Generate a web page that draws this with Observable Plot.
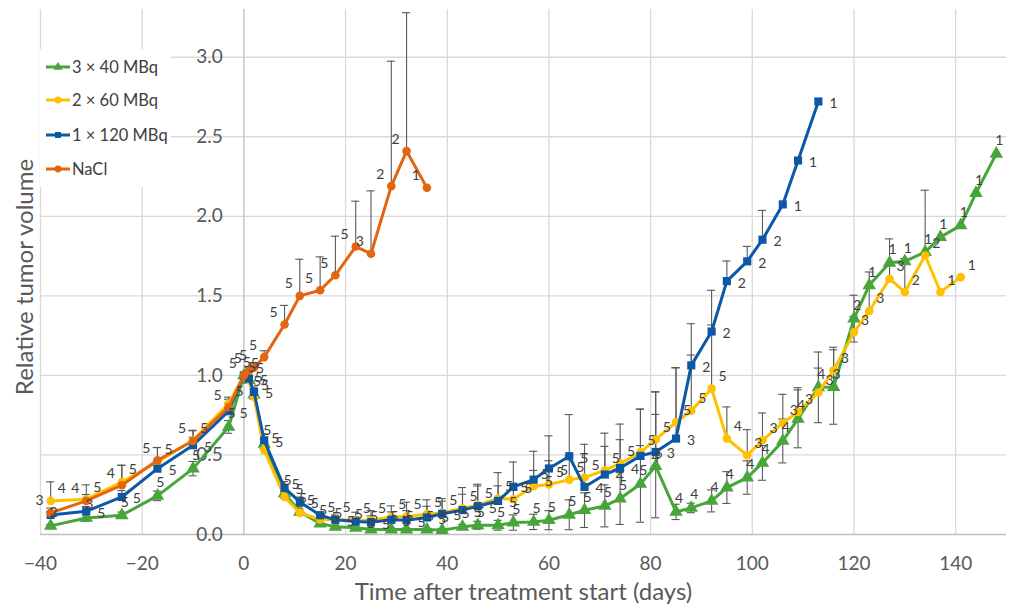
<!DOCTYPE html>
<html><head><meta charset="utf-8">
<script src="https://cdn.jsdelivr.net/npm/d3@7"></script>
<script src="https://cdn.jsdelivr.net/npm/@observablehq/plot@0.6"></script>
<style>
body{margin:0;background:#fff;font-family:Lato,"Open Sans",sans-serif;}
#wrap{position:relative;width:1011px;height:610px;}
#legend{position:absolute;left:40px;top:49px;width:131px;height:138px;background:#fff;}
#legend text{font-family:Lato,"Open Sans",sans-serif;}
</style></head><body><div id="wrap"><div id="legend"></div></div>
<script>
// Shared timeline (days after treatment start)
const days = [-38,-31,-24,-17,-10,-3,0,1,2,4,8,11,15,18,22,25,29,32,36,39,43,46,50,53,57,60,64,67,71,74,78,81,85,88,92,95,99,102,106,109,113,116,120,123,127,130,134,137,141,144,148];

const seriesNames = ["3 × 40 MBq","2 × 60 MBq","1 × 120 MBq","NaCl"];
const seriesColors = ["#47a53a","#ffc000","#0c58a6","#e4650f"];

// 3 × 40 MBq (green)
const g40 = [0.054,0.104,0.121,0.243,0.414,0.676,
  1.0,0.97,0.88,0.57,0.258,0.142,0.069,0.048,0.042,0.031,0.031,0.031,0.031,0.027,0.048,0.058,0.058,0.075,0.079,0.09,0.124,0.153,0.18,0.226,0.318,0.43,0.142,0.167,0.211,0.295,0.358,0.45,0.588,0.727,0.925,0.927,1.357,1.566,1.708,1.717,1.775,1.869,1.943,2.146,2.393];
const g40n = [2,3,5,5,5,5,
  5,5,5,5,5,5,5,5,5,5,5,5,5,5,5,5,5,5,5,5,5,5,5,5,5,5,4,4,4,4,4,4,4,4,4,3,2,1,1,1,1,1,1,1,1];
const g40err = [0.01,0.02,0.02,0.03,0.045,0.04,
  0,0.02,0.03,0.03,0.03,0.02,0.01,0.01,0.01,0.01,0.01,0.01,0.01,0.01,0.015,0.025,0.031,0.048,0.048,0.06,0.094,0.109,0.132,0.163,0.241,0.325,0.048,0.03,0.069,0.1,0.105,0.109,0.138,0.182,0.222,0.234,0.147,0,0,0,0,0,0,0,0];

// 2 × 60 MBq (yellow)
const y60 = [0.211,0.222,0.33,0.456,0.592,0.823,
  1.0,0.97,0.864,0.53,0.236,0.136,0.094,0.092,0.09,0.09,0.11,0.113,0.128,0.136,0.165,0.185,0.226,0.222,0.303,0.314,0.345,0.358,0.404,0.446,0.517,0.597,0.707,0.778,0.917,0.603,0.498,0.592,0.701,0.77,0.893,1.032,1.271,1.405,1.608,1.524,1.754,1.524,1.618];
const y60n = [4,5,5,5,5,5,
  5,5,5,5,5,5,5,5,5,5,5,5,5,5,5,5,5,5,5,5,5,5,5,5,5,5,5,5,5,4,3,3,3,3,3,3,3,3,3,2,2,1,1];
const y60err = [0.12,0.09,0.105,0.09,0.06,0.04,
  0,0.02,0.03,0.03,0.03,0.04,0.03,0.03,0.05,0.06,0.07,0.09,0.09,0.09,0.13,0.12,0.08,0.1,0.1,0.15,0.15,0.15,0.15,0.15,0.27,0.3,0.34,0.35,0.4,0.199,0.161,0.172,0.18,0.153,0.153,0.145,0.1,0.245,0.25,0.21,0.41,0,0];

// 1 × 120 MBq (blue)
const b120 = [0.123,0.146,0.236,0.414,0.561,0.775,
  1.0,0.98,0.896,0.592,0.293,0.205,0.121,0.092,0.082,0.077,0.092,0.09,0.107,0.13,0.153,0.178,0.211,0.299,0.345,0.415,0.492,0.299,0.377,0.418,0.494,0.519,0.603,1.063,1.276,1.593,1.717,1.853,2.075,2.351,2.722];
const b120n = [null,5,5,5,5,5,
  5,5,5,5,5,5,5,5,5,5,5,5,5,5,5,5,5,5,5,5,5,4,4,4,4,3,3,2,2,2,2,2,1,1,1];
const b120err = [0.02,0.03,0.04,0.05,0.05,0.05,
  0,0.02,0.03,0.04,0.04,0.03,0.02,0.02,0.03,0.04,0.05,0.06,0.07,0.08,0.1,0.138,0.178,0.157,0.178,0.205,0.262,0.268,0.26,0.276,0.295,0.377,0.446,0.262,0.259,0.126,0.094,0.184,0,0,0];

// NaCl (orange)
const nacl = [0.136,0.211,0.31,0.467,0.588,0.80,
  1.0,1.03,1.05,1.115,1.32,1.50,1.535,1.63,1.81,1.765,2.19,2.41,2.18];
const nacln = [3,4,4,5,5,5, 5,5,5,5,5,5,5,5,5,3,2,2,1];
const naclerr = [0.03,0.04,0.125,0.08,0.067,0.05, 0,0.02,0.03,0.04,0.12,0.23,0.21,0.245,0.285,0.395,0.785,0.87,0];

const xTicks = [-40,-20,0,20,40,60,80,100,120,140];
const yTicks = [0,0.5,1.0,1.5,2.0,2.5,3.0];

function rows(vals, ns, errs) {
  return vals.map((v, i) => ({day: days[i], v, n: ns[i], err: errs[i]}));
}
const G = rows(g40, g40n, g40err);
const Y = rows(y60, y60n, y60err);
const B = rows(b120, b120n, b120err);
const N = rows(nacl, nacln, naclerr);

const errColor = "#595959";
const capHalf = 0.8;
function plusBars(data) {
  const d = data.filter(r => r.err > 0);
  return [
    Plot.ruleX(d, {x: "day", y1: "v", y2: r => r.v + r.err, stroke: errColor, strokeWidth: 1.1}),
    Plot.ruleY(d, {y: r => r.v + r.err, x1: r => r.day - capHalf, x2: r => r.day + capHalf, stroke: errColor, strokeWidth: 1.1})
  ];
}
function bothBars(data) {
  const d = data.filter(r => r.err > 0);
  return [
    Plot.ruleX(d, {x: "day", y1: r => r.v - r.err, y2: r => r.v + r.err, stroke: errColor, strokeWidth: 1.1}),
    Plot.ruleY(d, {y: r => r.v + r.err, x1: r => r.day - capHalf, x2: r => r.day + capHalf, stroke: errColor, strokeWidth: 1.1}),
    Plot.ruleY(d, {y: r => r.v - r.err, x1: r => r.day - capHalf, x2: r => r.day + capHalf, stroke: errColor, strokeWidth: 1.1})
  ];
}
function series(data, color, symbol, r) {
  return [
    Plot.line(data, {x: "day", y: "v", stroke: color, strokeWidth: 3, strokeLinejoin: "round"}),
    Plot.dot(data, {x: "day", y: "v", fill: color, symbol, r, stroke: "none"})
  ];
}
function labels(data, dx, dy, anchor) {
  return Plot.text(data.filter(r => r.n != null), {x: "day", y: "v", text: r => String(r.n), dx, dy, textAnchor: anchor, fill: "#404040", fontSize: 14});
}
const fmtX = d => d < 0 ? "\u2212" + (-d) : String(d);

const chart = Plot.plot({
  width: 1011, height: 610,
  marginLeft: 40, marginRight: 5, marginTop: 9, marginBottom: 76,
  x: {domain: [-40, 150]},
  y: {domain: [0, 3.3], axis: null},
  style: {fontFamily: "Lato, 'Open Sans', sans-serif", background: "#fff"},
  marks: [
    Plot.ruleX(xTicks.filter(d => d !== 0), {stroke: "#d9d9d9", strokeWidth: 1.3}),
    Plot.ruleY(yTicks.filter(d => d !== 0), {stroke: "#d9d9d9", strokeWidth: 1.3}),
    Plot.ruleX([0], {stroke: "#bfbfbf", strokeWidth: 1.3}),
    Plot.ruleY([0], {stroke: "#bfbfbf", strokeWidth: 1.3}),
    Plot.axisX({ticks: xTicks, tickSize: 0, tickPadding: 22, tickFormat: fmtX, fontSize: 19, fill: "#595959", label: null}),
    Plot.text(yTicks, {x: () => 0, y: d => d, text: d => d.toFixed(1), textAnchor: "end", dx: -21, fontSize: 19, fill: "#595959"}),
    Plot.text(["Time after treatment start (days)"], {frameAnchor: "bottom", text: d => d, textAnchor: "middle", lineAnchor: "middle", dy: 58, fontSize: 24, fill: "#595959"}),
    Plot.text(["Relative tumor volume"], {frameAnchor: "left", text: d => d, textAnchor: "middle", lineAnchor: "middle", rotate: -90, dx: -15, dy: 5, fontSize: 24, fill: "#595959"}),
    ...plusBars(N),
    ...plusBars(B),
    ...plusBars(Y),
    ...bothBars(G),
    ...series(G, seriesColors[0], "triangle", 5),
    ...series(Y, seriesColors[1], "circle", 4.3),
    ...series(B, seriesColors[2], "square", 4.6),
    ...series(N, seriesColors[3], "circle", 4.3),
    labels(G, 3, -13, "middle"),
    labels(Y, 7, -12, "start"),
    labels(B, 11, 2, "start"),
    labels(N, -7, -12, "end")
  ]
});
document.getElementById("wrap").prepend(chart);

// Legend (inside plot area, top-left)
const symbols = ["triangle","circle","square","circle"];
const lg = d3.select("#legend").append("svg").attr("width", 131).attr("height", 138);
const rowsY = [18, 51, 86, 120];
seriesNames.forEach((name, i) => {
  const g = lg.append("g").attr("transform", `translate(0,${rowsY[i]})`);
  g.append("line").attr("x1", 6).attr("x2", 30).attr("stroke", seriesColors[i]).attr("stroke-width", 3);
  const sym = {triangle: d3.symbolTriangle, circle: d3.symbolCircle, square: d3.symbolSquare}[symbols[i]];
  g.append("path").attr("transform", "translate(18,0)").attr("d", d3.symbol(sym, 36)()).attr("fill", seriesColors[i]);
  g.append("text").attr("x", 32).attr("dy", "0.35em").attr("font-size", 16.5).attr("fill", "#404040").text(name);
});
</script>
</body></html>
